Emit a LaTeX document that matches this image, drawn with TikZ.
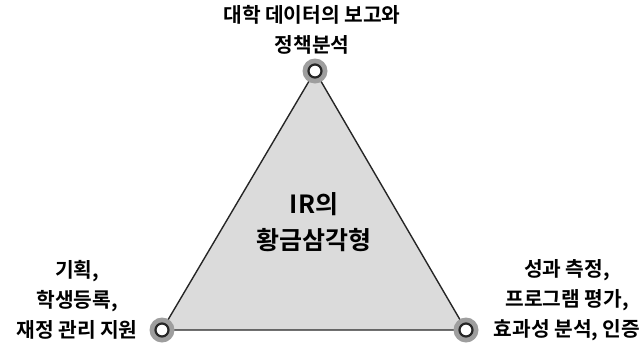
\documentclass[tikz,border=0pt]{standalone}
\usepackage{fontspec}
\newfontfamily\kr{Noto Sans CJK KR}[BoldFont={* Bold}]
\begin{document}
\begin{tikzpicture}[x=1pt,y=-1pt,
  lbl/.style={font=\kr\bfseries\fontsize{20.3}{30}\selectfont, align=center, inner sep=0pt},
  halo/.style={circle, fill=black!38, minimum size=25pt, inner sep=0pt},
  vtx/.style={circle, draw=black!85, line width=2.2pt, fill=white, minimum size=13pt, inner sep=0pt}]
\useasboundingbox (0,0) rectangle (643,349);
\coordinate (T) at (315,71);
\coordinate (L) at (162,330);
\coordinate (R) at (466,330);
\filldraw[fill=black!14, draw=black!85, line width=1.4pt, line join=round] (T) -- (L) -- (R) -- cycle;
\node[halo] at (T) {};
\node[halo] at (L) {};
\node[halo] at (R) {};
\node[vtx] (t) at (T) {};
\node[vtx] (l) at (L) {};
\node[vtx] (r) at (R) {};
\node[lbl, anchor=center] (topl) at (312,30) {대학 데이터의 보고와\\정책분석};
\node[lbl] (leftl) at (77,300) {기획,\\학생등록,\\재정 관리 지원};
\node[lbl] (rightl) at (567,300) {성과 측정,\\프로그램 평가,\\효과성 분석, 인증};
\node[lbl, font=\kr\bfseries\fontsize{25}{36}\selectfont] (cen) at (314,222) {IR의\\황금삼각형};
\end{tikzpicture}
\end{document}
